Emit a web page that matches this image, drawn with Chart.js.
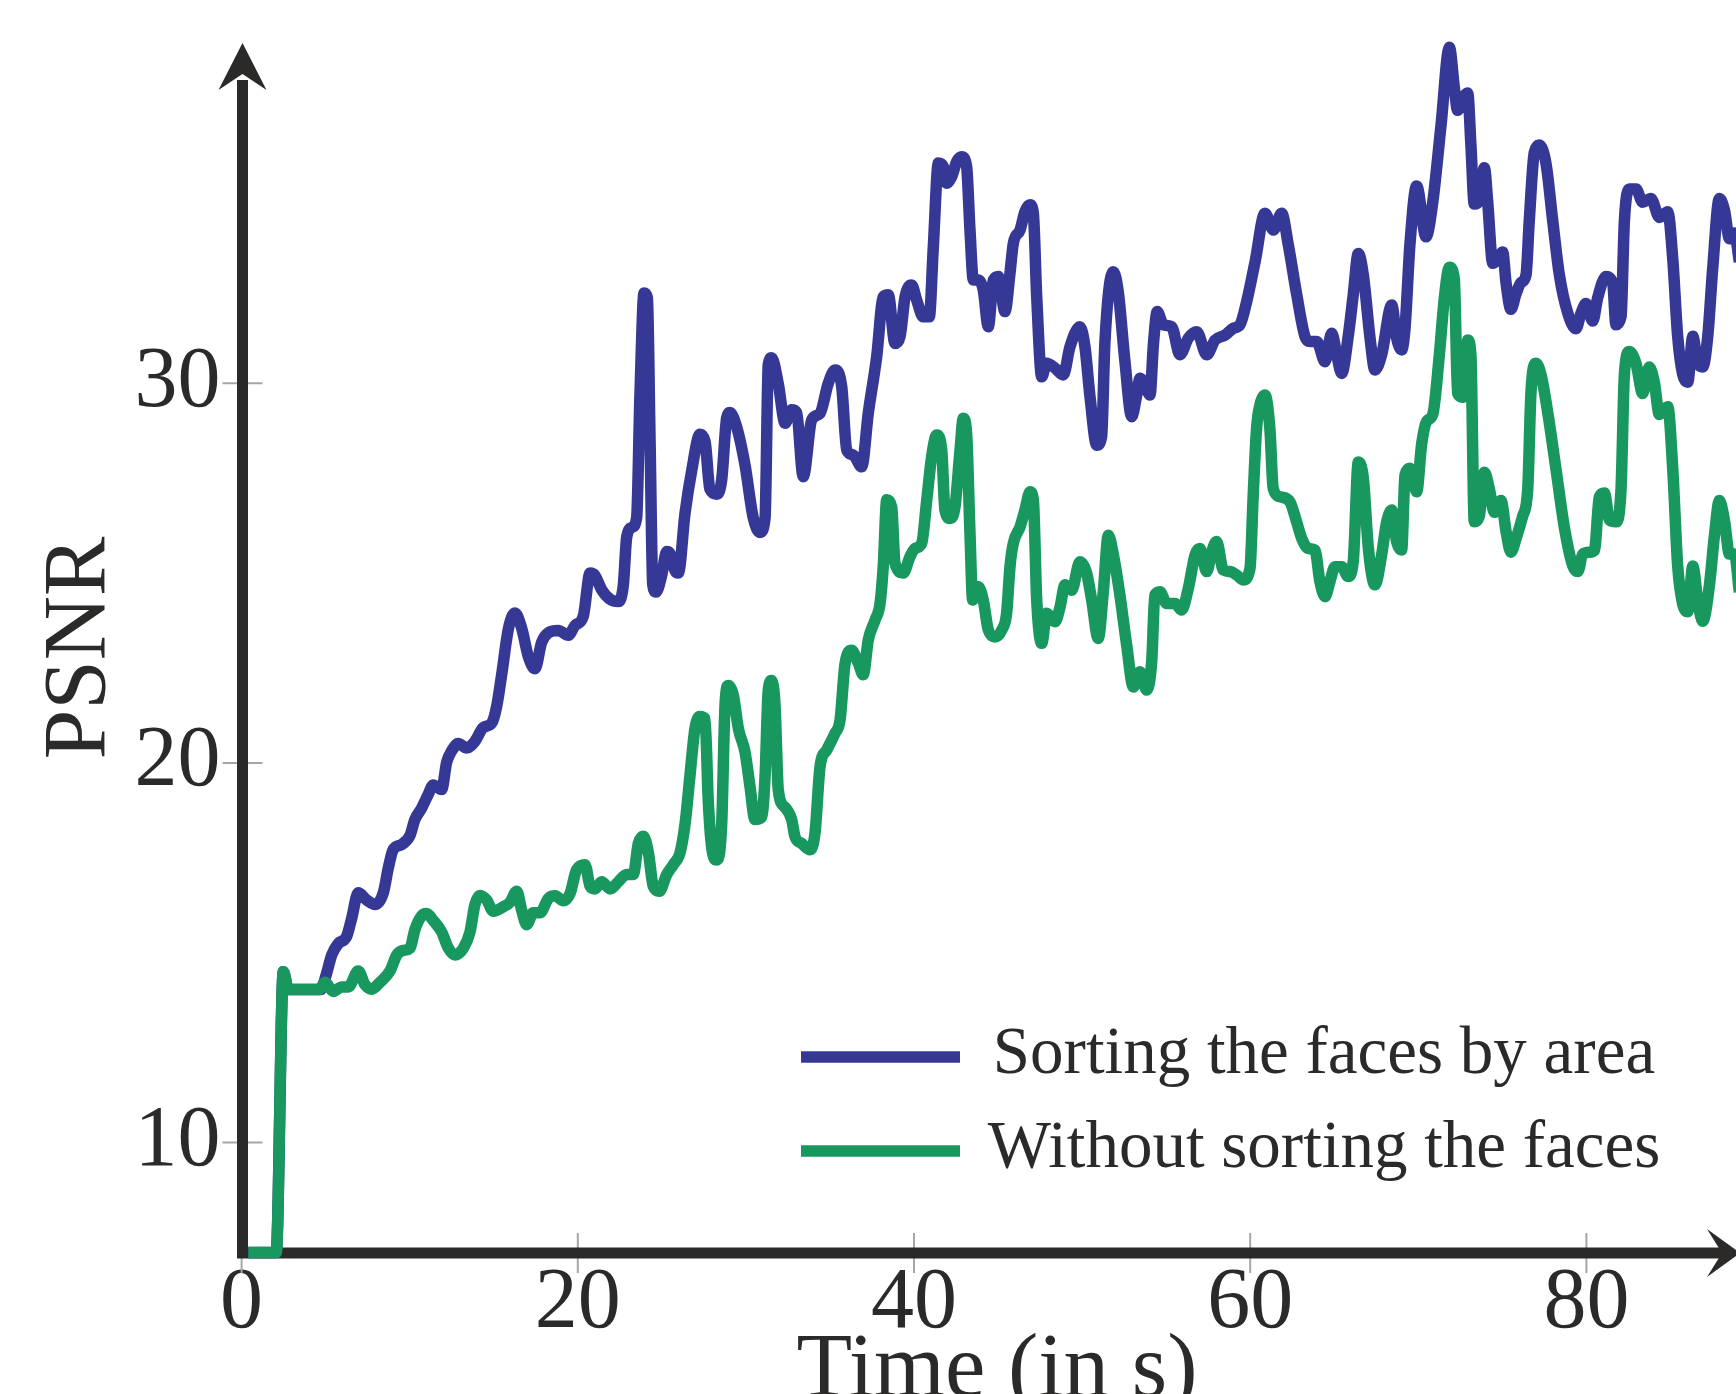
<!DOCTYPE html>
<html>
<head>
<meta charset="utf-8">
<script src="https://cdn.jsdelivr.net/npm/chart.js@4.4.1/dist/chart.umd.min.js"></script>
<style>html,body{margin:0;padding:0;background:#fff;overflow:hidden}canvas{display:block}</style>
</head>
<body>
<canvas id="c" width="1736" height="1394"></canvas>
<script>
// ---- data ----
const seriesNames = ['Sorting the faces by area', 'Without sorting the faces'];
const xTitle = 'Time (in s)';
const yTitle = 'PSNR';
const xTicks = [0, 20, 40, 60, 80];
const yTicks = [10, 20, 30];

const timeSorted = [0.4,2.06,2.48,2.78,4.7,5.06,5.36,5.75,6.25,6.55,6.94,7.44,7.94,8.43,8.73,9.02,9.52,10.02,10.31,10.71,11.11,11.4,11.9,12.2,12.5,12.89,13.39,13.88,14.38,14.88,15.17,15.47,15.87,16.26,16.66,17.06,17.45,17.85,18.25,18.84,19.44,19.83,20.33,20.73,21.02,21.42,21.92,22.41,22.71,22.91,23.21,23.5,23.7,23.94,24.14,24.3,24.46,24.65,24.99,25.29,25.49,25.78,25.98,26.38,26.78,27.27,27.57,27.86,28.26,28.56,28.86,29.05,29.45,29.95,30.44,30.84,31.14,31.33,31.53,31.93,32.33,32.72,33.02,33.41,33.91,34.41,34.9,35.3,35.7,36.0,36.39,36.89,37.28,37.78,38.17,38.47,38.87,39.17,39.47,39.86,40.16,40.55,40.91,41.15,41.45,41.74,41.94,42.24,42.54,42.84,43.13,43.33,43.53,43.83,44.12,44.42,44.72,45.02,45.41,45.71,45.91,46.31,46.6,46.9,47.1,47.3,47.6,47.89,48.39,48.88,49.28,49.87,50.17,50.47,50.87,51.16,51.36,51.86,52.15,52.55,52.95,53.25,53.44,53.74,54.04,54.24,54.47,54.83,55.33,55.82,56.32,56.82,57.41,57.91,58.5,59.0,59.39,59.79,60.29,60.88,61.38,61.87,62.27,62.77,63.26,63.56,63.96,64.45,64.85,65.15,65.44,65.84,66.13,66.43,66.73,67.13,67.42,67.82,68.42,68.71,69.01,69.21,69.5,69.9,70.46,70.86,71.35,71.85,72.14,72.34,72.64,72.94,73.13,73.33,73.63,73.93,74.13,74.43,74.72,75.02,75.22,75.51,75.81,76.11,76.41,76.6,76.9,77.2,77.6,78.0,78.39,78.89,79.38,79.68,79.98,80.38,80.67,81.17,81.56,81.76,82.06,82.26,82.55,82.95,83.35,83.84,84.34,84.84,85.14,85.43,85.73,86.03,86.33,86.62,86.92,87.22,87.52,87.91,88.21,88.51,88.81,89.1];
const psnrSorted = [7.1,7.1,14.5,14.03,14.03,14.46,14.94,15.24,15.43,15.91,16.58,16.39,16.27,16.58,17.24,17.72,17.85,18.09,18.51,18.81,19.18,19.42,19.3,20.02,20.32,20.51,20.39,20.57,20.93,21.05,21.48,22.32,23.53,23.95,23.55,22.8,22.48,23.18,23.43,23.49,23.36,23.62,23.87,25.0,24.94,24.56,24.31,24.25,24.69,25.95,26.2,26.45,29.73,32.38,32.25,28.47,24.69,24.5,24.94,25.57,25.51,25.07,25.0,26.58,27.71,28.66,28.47,27.21,27.08,27.46,29.1,29.23,28.85,27.84,26.45,26.07,26.45,30.49,30.67,29.98,28.95,29.3,29.23,27.54,29.03,29.21,30.0,30.35,29.91,28.24,28.11,27.8,29.21,30.7,32.28,32.33,31.05,31.23,32.28,32.59,32.19,31.75,31.75,33.6,35.8,35.71,35.27,35.44,35.84,35.97,35.71,34.04,32.72,32.72,32.46,31.49,32.72,32.81,31.89,32.9,33.69,34.04,34.52,34.7,34.48,32.28,30.17,30.53,30.4,30.22,30.96,31.49,30.96,29.65,28.37,28.59,31.1,32.94,32.41,30.57,29.12,29.69,30.13,29.96,29.69,31.01,31.89,31.54,31.49,30.75,31.19,31.36,30.75,31.14,31.27,31.45,31.54,32.15,33.2,34.48,34.04,34.48,33.64,32.33,31.23,31.1,31.1,30.57,31.32,30.75,30.26,31.27,32.33,33.42,32.85,31.19,30.35,30.75,32.06,31.19,30.88,31.45,33.64,35.2,33.86,34.77,36.79,38.85,37.8,37.19,37.49,37.65,36.28,34.72,34.82,35.68,34.77,33.16,33.26,33.46,32.65,31.95,32.35,32.65,32.86,34.27,36.08,36.28,35.78,34.27,32.86,31.85,31.44,31.85,32.1,31.64,32.25,32.81,32.65,31.54,31.75,34.27,35.12,35.12,34.77,34.87,34.37,34.52,33.26,31.24,30.23,30.03,31.24,30.53,30.43,31.24,33.06,34.87,34.57,33.81,33.96,33.2];

const timeUnsorted = [0.4,2.06,2.48,2.78,4.6,4.96,5.46,5.95,6.35,6.94,7.34,7.74,8.23,8.83,9.23,9.62,10.02,10.31,10.71,11.01,11.4,11.9,12.3,12.69,13.19,13.59,13.88,14.18,14.58,14.97,15.57,15.97,16.37,16.66,16.96,17.35,17.75,18.25,18.64,19.14,19.54,19.93,20.43,20.73,21.02,21.42,21.92,22.41,22.91,23.3,23.6,23.9,24.2,24.49,24.85,25.29,25.68,26.08,26.38,26.67,26.97,27.27,27.57,27.76,27.97,28.26,28.56,28.76,28.95,29.25,29.55,29.95,30.24,30.54,30.94,31.14,31.33,31.53,31.73,31.93,32.33,32.72,32.92,33.32,33.81,34.11,34.41,34.81,35.3,35.6,35.9,36.29,36.69,36.98,37.28,37.68,37.98,38.17,38.38,38.67,38.87,39.36,39.76,40.06,40.46,40.76,41.05,41.35,41.65,41.84,42.14,42.44,42.74,42.93,43.13,43.33,43.49,43.83,44.12,44.42,44.82,45.22,45.51,45.71,45.91,46.31,46.6,46.9,47.1,47.3,47.6,47.89,48.39,48.69,48.98,49.38,49.87,50.27,50.57,50.96,51.26,51.56,51.86,52.25,52.65,53.05,53.44,53.84,54.14,54.33,54.63,55.03,55.53,55.92,56.32,56.72,57.01,57.41,57.71,58.0,58.4,58.8,59.2,59.59,59.99,60.18,60.38,60.58,60.88,61.17,61.37,61.77,62.36,62.76,63.06,63.45,63.85,64.15,64.45,64.74,65.04,65.44,65.83,66.13,66.43,66.73,67.03,67.42,67.82,68.12,68.42,68.71,69.01,69.21,69.5,69.9,70.2,70.5,70.86,71.25,71.55,71.85,72.14,72.34,72.64,72.94,73.13,73.33,73.63,73.93,74.23,74.52,74.92,75.22,75.51,75.81,76.21,76.51,76.7,77.0,77.3,77.7,78.2,78.69,79.19,79.49,79.78,80.18,80.48,80.77,81.07,81.37,81.76,82.06,82.26,82.55,82.95,83.35,83.74,84.04,84.34,84.84,85.14,85.43,85.73,86.03,86.33,86.62,86.92,87.32,87.62,87.91,88.21,88.51,88.81,89.1];
const psnrUnsorted = [7.1,7.1,14.5,14.03,14.03,14.22,13.98,14.1,14.1,14.52,14.16,14.04,14.22,14.52,14.94,15.06,15.12,15.61,15.97,16.03,15.85,15.55,15.12,14.94,15.12,15.55,16.27,16.51,16.39,16.09,16.21,16.33,16.62,16.12,15.74,16.05,16.05,16.43,16.5,16.37,16.56,17.19,17.32,16.75,16.68,16.87,16.68,16.87,17.06,17.06,17.88,18.07,17.63,16.75,16.62,17.06,17.32,17.63,18.39,19.65,20.91,21.22,21.16,19.01,17.76,17.44,18.39,21.54,22.04,21.79,20.91,20.28,19.39,18.51,18.57,19.65,21.92,22.17,21.54,19.27,18.83,18.51,18.06,17.88,17.71,18.15,19.9,20.34,20.78,21.13,22.62,22.97,22.62,22.32,23.24,23.76,24.2,25.17,26.93,26.75,25.26,25.0,25.43,25.65,25.79,26.93,28.07,28.64,28.24,26.66,26.44,26.75,28.24,29.08,28.68,26.05,24.29,24.64,24.29,23.5,23.32,23.5,23.94,25.17,25.79,26.22,26.66,27.14,26.93,24.29,23.15,23.94,23.72,24.11,24.69,24.55,25.3,25.0,24.29,23.28,24.5,26.0,25.48,24.42,23.11,22.0,22.4,21.92,22.67,24.42,24.51,24.2,24.2,24.03,24.6,25.48,25.65,25.04,25.56,25.83,25.08,25.04,24.95,24.82,25.13,27.06,28.81,29.43,29.69,28.81,27.23,27.01,26.88,26.35,25.92,25.65,25.61,24.77,24.38,24.77,25.17,25.17,24.91,25.3,27.93,27.5,25.65,24.69,25.48,26.35,26.66,25.83,25.61,27.58,27.76,27.14,28.4,29.0,29.18,30.74,32.25,33.06,32.76,29.73,29.63,31.14,30.74,26.35,26.5,27.66,27.21,26.6,26.91,26.1,25.55,25.9,26.5,27.21,29.73,30.53,30.23,29.23,27.71,26.2,25.19,25.04,25.5,25.55,25.6,27.01,27.11,26.4,26.35,27.21,30.23,30.84,30.53,29.73,30.43,30.03,29.18,29.38,27.72,25.19,24.18,23.98,25.19,24.29,23.73,24.69,26.0,26.91,26.4,25.5,25.5,24.5];

// ---- styles ----
const INK = '#2b2a29';
const TICK_GREY = '#a6a6a6';
const BLUE = '#363896';
const GREEN = '#18975f';
const SERIF = '"Liberation Serif", "Times New Roman", serif';

function pts(ts, vs) { return ts.map((t, i) => ({ x: t, y: vs[i] })); }

const axesPlugin = {
  id: 'arrowAxes',
  beforeDatasetsDraw(chart) {
    const { ctx, chartArea, scales: { x, y } } = chart;
    const x0 = Math.round(x.getPixelForValue(0)) + 0.5;
    const y0 = chartArea.bottom;
    ctx.save();
    // tick marks
    ctx.strokeStyle = TICK_GREY;
    ctx.lineWidth = 2;
    ctx.beginPath();
    yTicks.forEach(v => { const p = y.getPixelForValue(v); ctx.moveTo(x0 - 20, p); ctx.lineTo(x0 + 20, p); });
    xTicks.forEach(v => { const p = x.getPixelForValue(v); ctx.moveTo(p, y0 - 20); ctx.lineTo(p, y0 + 20); });
    ctx.stroke();
    // axis lines
    ctx.strokeStyle = INK;
    ctx.lineWidth = 11;
    ctx.lineCap = 'butt';
    ctx.beginPath();
    ctx.moveTo(x0, y0 + 5.5); ctx.lineTo(x0, 80);
    ctx.moveTo(x0 - 5.5, y0); ctx.lineTo(1722, y0);
    ctx.stroke();
    // arrow heads
    ctx.fillStyle = INK;
    ctx.beginPath();
    ctx.moveTo(x0, 43); ctx.lineTo(x0 + 24, 90); ctx.lineTo(x0, 74); ctx.lineTo(x0 - 24, 90); ctx.closePath();
    ctx.fill();
    ctx.beginPath();
    ctx.moveTo(1740, y0); ctx.lineTo(1707, y0 - 24); ctx.lineTo(1722, y0); ctx.lineTo(1707, y0 + 24); ctx.closePath();
    ctx.fill();
    ctx.restore();
  },
  afterDraw(chart) {
    const { ctx } = chart;
    ctx.save();
    ctx.fillStyle = INK;
    // axis titles
    ctx.font = '91px ' + SERIF;
    ctx.textAlign = 'center';
    ctx.textBaseline = 'alphabetic';
    ctx.fillText(xTitle, 997, 1396);
    ctx.save();
    ctx.translate(104, 648);
    ctx.rotate(-Math.PI / 2);
    ctx.font = '89px ' + SERIF;
    ctx.fillText(yTitle, 0, 0);
    ctx.restore();
    // legend
    const rows = [
      { color: BLUE, label: seriesNames[0], lineY: 1057, base: 1073 },
      { color: GREEN, label: seriesNames[1], lineY: 1151, base: 1167 }
    ];
    ctx.font = '67px ' + SERIF;
    rows.forEach(r => {
      ctx.strokeStyle = r.color;
      ctx.lineWidth = 11.5;
      ctx.lineCap = 'butt';
      ctx.beginPath();
      ctx.moveTo(801, r.lineY); ctx.lineTo(960, r.lineY);
      ctx.stroke();
      ctx.fillStyle = INK;
      ctx.fillText(r.label, 1324, r.base);
    });
    ctx.restore();
  }
};

new Chart(document.getElementById('c').getContext('2d'), {
  type: 'line',
  data: {
    datasets: [
      { label: seriesNames[1], data: pts(timeUnsorted, psnrUnsorted), borderColor: GREEN, order: 0, clip: false },
      { label: seriesNames[0], data: pts(timeSorted, psnrSorted), borderColor: BLUE, order: 1, clip: false }
    ]
  },
  options: {
    responsive: false,
    animation: false,
    devicePixelRatio: 1,
    layout: { padding: { top: 20, left: 0, right: 0, bottom: 0 } },
    plugins: { legend: { display: false }, tooltip: { enabled: false } },
    elements: {
      point: { radius: 0 },
      line: { borderWidth: 11.5, cubicInterpolationMode: 'monotone', borderJoinStyle: 'round', borderCapStyle: 'butt', fill: false }
    },
    scales: {
      x: {
        type: 'linear', min: 0, max: 88.9,
        afterFit(s) { s.height = 141; s.paddingLeft = 0; s.paddingRight = 0; },
        afterBuildTicks(s) { s.ticks = xTicks.map(v => ({ value: v })); },
        grid: { display: false, drawTicks: false },
        border: { display: false },
        ticks: { font: { family: SERIF, size: 86 }, color: INK, padding: 0, maxRotation: 0, autoSkip: false }
      },
      y: {
        type: 'linear', min: 7.09, max: 39.57,
        afterFit(s) { s.width = 241.6; s.paddingTop = 0; s.paddingBottom = 0; },
        afterBuildTicks(s) { s.ticks = yTicks.map(v => ({ value: v })); },
        grid: { display: false, drawTicks: false },
        border: { display: false },
        ticks: { font: { family: SERIF, size: 86 }, color: INK, padding: 21 }
      }
    }
  },
  plugins: [axesPlugin]
});
</script>
</body>
</html>
